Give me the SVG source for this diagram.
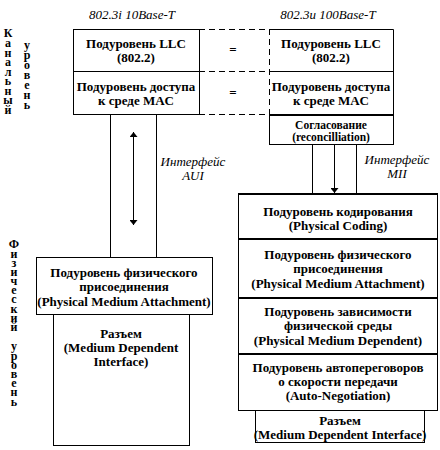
<svg xmlns="http://www.w3.org/2000/svg" width="440" height="450" viewBox="0 0 440 450">
<defs>
<marker id="ah" viewBox="0 0 10 10" refX="10" refY="5" markerWidth="5" markerHeight="8" markerUnits="userSpaceOnUse" orient="auto-start-reverse" preserveAspectRatio="none">
<path d="M0,0 L10,5 L0,10 z" fill="#000"/>
</marker>
<style>
.box{fill:#fff;stroke:#000;stroke-width:1}
.div{stroke:#000;stroke-width:2}
.t{font-family:"Liberation Serif","Times New Roman",serif;font-weight:bold;font-size:13px;text-anchor:middle;fill:#000}
.ts{font-size:11.5px}
.it{font-family:"Liberation Serif","Times New Roman",serif;font-style:italic;font-size:13px;text-anchor:middle;fill:#000}
.v{font-family:"Liberation Serif","Times New Roman",serif;font-weight:bold;font-size:12px;fill:#000;writing-mode:vertical-rl;text-orientation:upright}
.dash{stroke:#000;stroke-width:1;stroke-dasharray:6 4;fill:none}
.ln{stroke:#000;stroke-width:1;fill:none}
</style>
</defs>
<rect width="440" height="450" fill="#fff"/>

<g id="side-labels">
<text class="v" x="8" y="26.4" style="letter-spacing:-4.42px">Канальный</text>
<text class="v" x="27" y="38.4" style="letter-spacing:-4.08px">уровень</text>
<text class="v" x="14" y="237.4" style="letter-spacing:-4.83px">Физический</text>
<text class="v" x="14" y="339.4" style="letter-spacing:-4.78px">уровень</text>
</g>

<g id="titles">
<text class="it" x="132" y="19">802.3i 10Base-T</text>
<text class="it" x="328" y="19">802.3u 100Base-T</text>
</g>

<g id="connectors">
<line class="ln" x1="110.5" y1="114" x2="110.5" y2="257"/>
<line class="ln" x1="156.5" y1="114" x2="156.5" y2="257"/>
<line class="ln" x1="133.5" y1="132" x2="133.5" y2="225" marker-start="url(#ah)" marker-end="url(#ah)"/>
<line class="ln" x1="312.5" y1="144" x2="312.5" y2="193"/>
<line class="ln" x1="356.5" y1="144" x2="356.5" y2="193"/>
<line class="ln" x1="334.5" y1="144" x2="334.5" y2="193" marker-end="url(#ah)"/>
<text class="it" x="193" y="166">Интерфейс</text>
<text class="it" x="193" y="180">AUI</text>
<text class="it" x="397" y="164">Интерфейс</text>
<text class="it" x="397" y="178">MII</text>
</g>

<g id="equivalence">
<line class="dash" x1="199" y1="29.5" x2="269" y2="29.5"/>
<line class="dash" x1="199" y1="71.5" x2="269" y2="71.5"/>
<line class="dash" x1="199" y1="114.5" x2="269" y2="114.5"/>
<line class="dash" x1="269.5" y1="29" x2="269.5" y2="114"/>
<text class="t" x="233" y="54" font-size="16" font-weight="normal">=</text>
<text class="t" x="233" y="97" font-size="16" font-weight="normal">=</text>
</g>

<g id="llc-10">
<rect class="box" x="73.5" y="29.5" width="126" height="42"/>
<text class="t" x="136" y="48">Подуровень LLC</text>
<text class="t" x="136" y="62">(802.2)</text>
</g>
<g id="mac-10">
<rect class="box" x="73.5" y="71.5" width="126" height="43"/>
<text class="t" x="136" y="91">Подуровень доступа</text>
<text class="t" x="136" y="105">к среде MAC</text>
</g>

<g id="llc-100">
<path class="ln" d="M269.5,29.5 H393.5 V114.5 H269.5"/>
<line class="ln" x1="269.5" y1="71.5" x2="393.5" y2="71.5"/>
<text class="t" x="331" y="48">Подуровень LLC</text>
<text class="t" x="331" y="62">(802.2)</text>
</g>
<g id="mac-100">
<text class="t" x="331" y="91">Подуровень доступа</text>
<text class="t" x="331" y="105">к среде MAC</text>
</g>
<g id="reconciliation">
<rect class="box" x="269.5" y="114.5" width="124" height="30"/>
<line class="div" x1="269.5" y1="115" x2="393.5" y2="115"/>
<text class="t ts" x="331" y="129">Согласование</text>
<text class="t ts" x="331" y="141">(reconcilliation)</text>
</g>

<g id="pma-10">
<rect class="box" x="36.5" y="257.5" width="176" height="57"/>
<text class="t" x="124" y="277">Подуровень физического</text>
<text class="t" x="124" y="291">присоединения</text>
<text class="t" x="124" y="306">(Physical Medium Attachment)</text>
</g>
<g id="mdi-10">
<rect class="box" x="53.5" y="314.5" width="136" height="131"/>
<text class="t" x="121" y="338">Разъем</text>
<text class="t" x="121" y="352">(Medium Dependent</text>
<text class="t" x="121" y="366">Interface)</text>
</g>

<g id="pcs-100">
<rect class="box" x="238.5" y="193.5" width="199" height="45"/>
<line class="div" x1="238.5" y1="194" x2="437.5" y2="194"/>
<text class="t" x="338" y="216">Подуровень кодирования</text>
<text class="t" x="338" y="230">(Physical Coding)</text>
</g>
<g id="pma-100">
<rect class="box" x="238.5" y="238.5" width="199" height="59"/>
<line class="div" x1="238.5" y1="239" x2="437.5" y2="239"/>
<text class="t" x="338" y="259">Подуровень физического</text>
<text class="t" x="338" y="273">присоединения</text>
<text class="t" x="338" y="288">(Physical Medium Attachment)</text>
</g>
<g id="pmd-100">
<rect class="box" x="238.5" y="297.5" width="199" height="56"/>
<line class="div" x1="238.5" y1="298" x2="437.5" y2="298"/>
<text class="t" x="338" y="316">Подуровень зависимости</text>
<text class="t" x="338" y="330">физической среды</text>
<text class="t" x="338" y="345">(Physical Medium Dependent)</text>
</g>
<g id="an-100">
<rect class="box" x="238.5" y="353.5" width="199" height="57"/>
<line class="div" x1="238.5" y1="354" x2="437.5" y2="354"/>
<text class="t" x="338" y="372">Подуровень автопереговоров</text>
<text class="t" x="338" y="386">о скорости передачи</text>
<text class="t" x="338" y="400">(Auto-Negotiation)</text>
</g>
<g id="mdi-100">
<rect class="box" x="255.5" y="410.5" width="169" height="32"/>
<text class="t" x="340" y="425">Разъем</text>
<text class="t" x="340" y="439">(Medium Dependent Interface)</text>
</g>
</svg>
